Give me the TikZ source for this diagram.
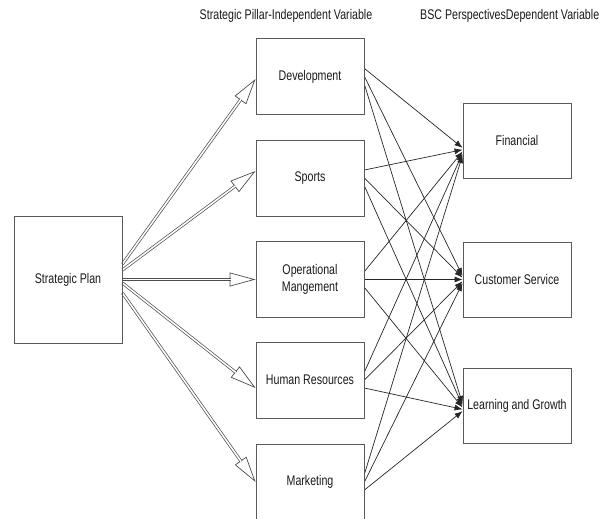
\documentclass[tikz,border=0pt]{standalone}
\usepackage{fontspec}
\setmainfont{Liberation Sans}[FakeStretch=0.76]
\usetikzlibrary{arrows.meta,calc}
\pgfdeclarelayer{bg}
\pgfsetlayers{bg,main}
\begin{document}
\begin{tikzpicture}[x=1pt,y=-1pt,
  txt/.style={font=\fontsize{14}{17}\selectfont, text=black!90},
  box/.style={txt, draw=black!65, line width=0.9pt, minimum width=108pt, minimum height=76pt, inner sep=0pt, align=center},
  rbox/.style={box, minimum height=75pt},
  hollowtip/.style={line width=0.7pt, draw=black!70, -{Triangle[open,length=26pt,width=14pt]}},
  hollowshaft/.style={double=white, double distance=1.6pt, line width=0.7pt, draw=black!70, shorten >=25pt},
  thinarrow/.style={line width=0.7pt, draw=black!85, -{Latex[length=8pt,width=6pt]}}
]
\useasboundingbox (0,0) rectangle (600,519);

\node[box, minimum height=127pt] (sp) at (68,279.5) {Strategic Plan};
\node[box] (dev) at (310,76.5) {Development};
\node[box] (spo) at (310,178) {Sports};
\node[box] (op) at (310,279.5) {Operational\\Mangement};
\node[box] (hr) at (310,380) {Human Resources};
\node[box] (mk) at (310,482) {Marketing};
\node[rbox] (fin) at (517,140.5) {Financial};
\node[rbox] (cs) at (517,279.5) {Customer Service};
\node[rbox] (lg) at (517,405.5) {Learning and Growth};

\node[txt, inner sep=0pt] (l1) at (286,16) {Strategic Pillar-Independent Variable};
\node[txt, inner sep=0pt, anchor=west] (l2) at (420,16) {BSC PerspectivesDependent Variable};

\begin{pgfonlayer}{bg}
\foreach \t/\sy/\ey in {dev/15.5/-2.5, spo/9.5/7, op/0/0, hr/-3.5/-8, mk/-13.5/0} {
  \draw[hollowtip] ([yshift=\sy pt]sp.east) -- ([yshift=\ey pt]\t.west);
  \draw[hollowshaft] ([yshift=\sy pt]sp.east) -- ([yshift=\ey pt]\t.west);
}
\foreach \s [count=\i from 0] in {dev,spo,op,hr,mk} {
  \foreach \t/\so/\eb in {fin/8/-11, cs/0/0, lg/-8/-2} {
    \pgfmathsetmacro\es{\eb+(2-\i)*1.8}
    \draw[thinarrow] ([yshift=\so pt]\s.east) -- ([yshift=\es pt]\t.west);
  }
}
\end{pgfonlayer}
\end{tikzpicture}
\end{document}
